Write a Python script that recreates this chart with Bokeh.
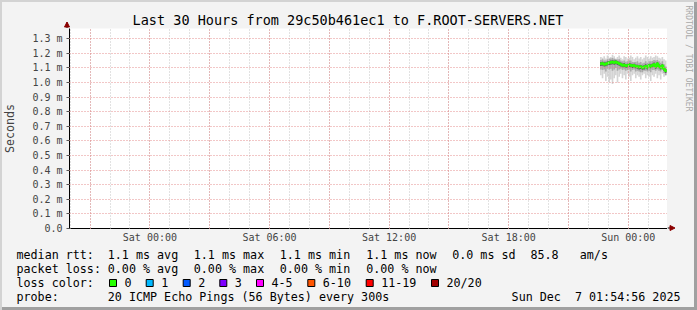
import math
import pandas as pd
from bokeh.plotting import figure
from bokeh.layouts import column, row
from bokeh.models import Range1d, FixedTicker, CustomJSTickFormatter
from bokeh.core.properties import value
from bokeh.embed import file_html
from bokeh.resources import INLINE

FONT = "DejaVu Sans Mono"

# ---------------- data ----------------
step_end_times = pd.date_range("2025-12-06 22:40", "2025-12-07 01:55", freq="5min")

median_ms = [1.128, 1.130, 1.125, 1.127, 1.132, 1.135, 1.138, 1.140, 1.137, 1.140,
             1.136, 1.130, 1.125, 1.118, 1.120, 1.115, 1.117, 1.121, 1.118, 1.114,
             1.116, 1.112, 1.110, 1.106, 1.108, 1.102, 1.106, 1.112, 1.104, 1.116,
             1.112, 1.118, 1.124, 1.110, 1.128, 1.112, 1.104, 1.114, 1.095, 1.080]
ping_max = [1.175, 1.170, 1.180, 1.165, 1.185, 1.170, 1.175, 1.190, 1.180, 1.165,
            1.175, 1.185, 1.170, 1.160, 1.180, 1.175, 1.165, 1.170, 1.185, 1.175,
            1.160, 1.170, 1.180, 1.165, 1.175, 1.160, 1.170, 1.185, 1.175, 1.165,
            1.180, 1.170, 1.175, 1.185, 1.180, 1.170, 1.165, 1.175, 1.160, 1.150]
ping_min = [1.050, 1.030, 1.060, 1.010, 1.040, 1.000, 1.020, 0.990, 1.030, 1.050,
            1.000, 1.040, 1.060, 1.030, 1.050, 1.020, 1.060, 1.040, 1.010, 1.050,
            1.060, 1.030, 1.050, 1.040, 1.020, 1.050, 1.060, 1.030, 1.050, 1.040,
            1.010, 1.050, 1.040, 1.060, 1.030, 1.050, 1.020, 1.060, 1.040, 1.050]
ping_p90 = [1.155, 1.160, 1.150, 1.150, 1.160, 1.162, 1.165, 1.168, 1.162, 1.160,
            1.158, 1.160, 1.150, 1.145, 1.150, 1.142, 1.145, 1.150, 1.150, 1.140,
            1.140, 1.140, 1.145, 1.135, 1.140, 1.130, 1.135, 1.145, 1.135, 1.145,
            1.145, 1.148, 1.155, 1.150, 1.155, 1.145, 1.135, 1.145, 1.125, 1.110]
ping_p10 = [1.090, 1.085, 1.090, 1.075, 1.095, 1.090, 1.095, 1.080, 1.090, 1.100,
            1.080, 1.090, 1.095, 1.085, 1.090, 1.080, 1.085, 1.090, 1.075, 1.085,
            1.090, 1.075, 1.080, 1.075, 1.070, 1.070, 1.080, 1.080, 1.075, 1.080,
            1.070, 1.085, 1.085, 1.080, 1.090, 1.080, 1.075, 1.085, 1.065, 1.050]
ping_p75 = [1.140, 1.142, 1.138, 1.139, 1.145, 1.147, 1.150, 1.152, 1.150, 1.152,
            1.148, 1.143, 1.137, 1.130, 1.133, 1.127, 1.129, 1.134, 1.130, 1.126,
            1.128, 1.124, 1.122, 1.118, 1.120, 1.114, 1.118, 1.125, 1.116, 1.128,
            1.125, 1.130, 1.137, 1.123, 1.140, 1.125, 1.116, 1.127, 1.107, 1.092]
ping_p25 = [1.113, 1.115, 1.110, 1.112, 1.117, 1.120, 1.122, 1.125, 1.121, 1.125,
            1.120, 1.115, 1.110, 1.103, 1.105, 1.100, 1.101, 1.106, 1.103, 1.099,
            1.100, 1.097, 1.095, 1.090, 1.093, 1.087, 1.090, 1.097, 1.089, 1.101,
            1.097, 1.103, 1.109, 1.095, 1.113, 1.097, 1.089, 1.099, 1.080, 1.065]

y_ticks = [0.0, 0.1, 0.2, 0.3, 0.4, 0.5, 0.6, 0.7, 0.8, 0.9, 1.0, 1.1, 1.2, 1.3]
x_label_ticks = ["2025-12-06 00:00", "2025-12-06 06:00", "2025-12-06 12:00",
                 "2025-12-06 18:00", "2025-12-07 00:00"]
x_major_grid = pd.date_range("2025-12-05 21:00", "2025-12-07 00:00", freq="3h")
x_minor_grid = pd.date_range("2025-12-05 20:00", "2025-12-07 01:00", freq="1h")
x_start, x_end = "2025-12-05 19:58", "2025-12-07 01:58"

title_text = "Last 30 Hours from 29c50b461ec1 to F.ROOT-SERVERS.NET"
watermark_text = "RRDTOOL / TOBI OETIKER"
row_heads = ["median rtt:", "packet loss:", "loss color:", "probe:"]
rtt_stats = ["1.1 ms avg", "1.1 ms max", "1.1 ms min", "1.1 ms now", "0.0 ms sd", "85.8", "am/s"]
loss_stats = ["0.00 % avg", "0.00 % max", "0.00 % min", "0.00 % now"]
loss_labels = ["0", "1", "2", "3", "4-5", "6-10", "11-19", "20/20"]
loss_colors = ["#26ff00", "#00b8ff", "#0059ff", "#7e00ff", "#ff00ff", "#ff5500", "#ff0000", "#a10000"]
probe_text = "20 ICMP Echo Pings (56 Bytes) every 300s"
stamp_text = "Sun Dec \u00a07 01:54:56 2025"


def to_ms(vals):
    return list((pd.to_datetime(vals) - pd.Timestamp("1970-01-01")) // pd.Timedelta("1ms"))


# ---------------- layout constants (page pixels) ----------------
W, H = 697, 310
MAIN_W, MAIN_H = 667, 218      # main chart block (below the title strip)
TITLE_H = 28
LEG_H = H - TITLE_H - MAIN_H   # 64
FL = 67                        # frame left


def overlay_fig(w, h, x0, y0):
    f = figure(width=w, height=h, output_backend="svg", toolbar_location=None,
               x_range=Range1d(x0, x0 + w), y_range=Range1d(y0 + h, y0),
               x_axis_location=None, y_axis_location=None, min_border=0,
               frame_align=False)
    f.outline_line_color = None
    f.background_fill_alpha = 0
    f.border_fill_alpha = 0
    f.grid.visible = False
    return f


def txt(f, x, y, s, size="11.7px", align="left", color="black", angle=0.0):
    f.text(x=x, y=y, text=s, text_font=value(FONT), text_font_size=value(size),
           text_align=align, text_baseline="middle", text_color=color, angle=angle)


# ---------------- main chart ----------------
p = figure(width=MAIN_W, height=MAIN_H, output_backend="svg", toolbar_location=None,
           x_axis_type="datetime",
           x_range=Range1d(pd.Timestamp(x_start), pd.Timestamp(x_end)),
           y_range=Range1d(0, 1.37), frame_align=False,
           min_border_left=FL, min_border_right=0, min_border_top=0, min_border_bottom=18)
p.outline_line_color = None
p.background_fill_color = "white"
p.border_fill_alpha = 0

lefts = step_end_times - pd.Timedelta("5min")
p.quad(left=lefts, right=step_end_times, bottom=ping_min, top=ping_max,
       fill_color="#d4d4d4", line_color=None)
p.quad(left=lefts, right=step_end_times, bottom=ping_p10, top=ping_p90,
       fill_color="#a8a8a8", line_color=None)
p.quad(left=lefts, right=step_end_times, bottom=ping_p25, top=ping_p75,
       fill_color="#5e5e5e", line_color=None)
p.segment(x0=lefts, x1=step_end_times, y0=median_ms, y1=median_ms,
          line_color="#26ff00", line_width=2.5)
p.step(x=step_end_times, y=median_ms, mode="before", line_color="#26ff00", line_width=2.5)

p.yaxis.ticker = FixedTicker(ticks=y_ticks)
p.yaxis.formatter = CustomJSTickFormatter(code="return tick == 0 ? '0.0' : tick.toFixed(1) + ' m';")
p.yaxis.axis_label = "Seconds"
p.yaxis.axis_label_text_font = FONT
p.yaxis.axis_label_text_font_size = "11.7px"
p.yaxis.axis_label_text_font_style = "normal"
p.yaxis.axis_label_standoff = 12
p.yaxis.major_label_text_font = FONT
p.yaxis.major_label_text_font_size = "10px"
p.yaxis.major_tick_out = 3
p.yaxis.major_tick_in = 0
p.yaxis.minor_tick_out = 0
p.yaxis.minor_tick_in = 0
p.yaxis.major_label_standoff = 4
p.yaxis.axis_line_color = "black"
p.yaxis.major_tick_line_color = "#555555"

p.xaxis.ticker = FixedTicker(ticks=to_ms(x_label_ticks))
p.xaxis.formatter = CustomJSTickFormatter(code="""
const d = new Date(tick);
const days = ['Sun','Mon','Tue','Wed','Thu','Fri','Sat'];
const h = String(d.getUTCHours()).padStart(2,'0');
const m = String(d.getUTCMinutes()).padStart(2,'0');
return days[d.getUTCDay()] + ' ' + h + ':' + m;
""")
p.xaxis.major_label_text_font = FONT
p.xaxis.major_label_text_font_size = "10px"
p.xaxis.major_tick_out = 0
p.xaxis.major_tick_in = 0
p.xaxis.minor_tick_out = 0
p.xaxis.minor_tick_in = 0
p.xaxis.major_label_standoff = 3
p.xaxis.axis_line_color = "black"

p.ygrid.ticker = FixedTicker(ticks=y_ticks)
p.ygrid.grid_line_color = "#e58f8f"
p.ygrid.grid_line_dash = "1 2"
p.ygrid.level = "overlay"
p.xgrid.ticker = FixedTicker(ticks=to_ms(x_major_grid), minor_ticks=to_ms(x_minor_grid))
p.xgrid.grid_line_color = "#e58f8f"
p.xgrid.grid_line_dash = "1 2"
p.xgrid.minor_grid_line_color = "#c4c4c4"
p.xgrid.minor_grid_line_dash = "1 2"
p.xgrid.level = "overlay"

# ---------------- title strip (with y-axis arrow) ----------------
pt = overlay_fig(MAIN_W, TITLE_H, 0, 0)
txt(pt, [347.5], [19.3], [title_text], size="13.5px", align="center")
pt.segment(x0=[FL - 0.5], y0=[22], x1=[FL - 0.5], y1=[TITLE_H], line_color="black", line_width=1)
pt.patch(x=[FL - 3, FL + 2, FL - 0.5], y=[26.5, 26.5, 21.5], fill_color="#8b0000", line_color="#8b0000")

# ---------------- right strip (watermark + x-axis arrow) ----------------
pw = overlay_fig(W - MAIN_W, TITLE_H + MAIN_H, MAIN_W, 0)
txt(pw, [687.5], [5], [watermark_text], size="8px", color="#a9a9a9", angle=-math.pi / 2)
pw.segment(x0=[MAIN_W], y0=[227.5], x1=[671], y1=[227.5], line_color="black", line_width=1)
pw.patch(x=[669.5, 669.5, 674.5], y=[225, 230, 227.5], fill_color="#8b0000", line_color="#8b0000")

# ---------------- legend strip ----------------
pl = overlay_fig(W, LEG_H, 0, TITLE_H + MAIN_H)
row_y = [254, 268, 282, 296]
txt(pl, [16] * 4, row_y, row_heads)
txt(pl, [107.3, 193.3, 279.3, 365.7, 451.7, 530, 579.3], [row_y[0]] * 7, rtt_stats)
txt(pl, [107.3, 193.3, 279.3, 365.7], [row_y[1]] * 4, loss_stats)
box_x = [109, 145.7, 182.7, 219.3, 256, 307.3, 365.7, 431]
pl.quad(left=box_x, right=[b + 7 for b in box_x], top=[279] * 8, bottom=[286] * 8,
        fill_color=loss_colors, line_color="black", line_width=1)
txt(pl, [b + 15 for b in box_x], [row_y[2]] * 8, loss_labels)
txt(pl, [107.3], [row_y[3]], [probe_text])
txt(pl, [680], [row_y[3]], [stamp_text], align="right")

page = column(
    row(column(pt, p, spacing=0), pw, spacing=0),
    pl,
    spacing=0,
    styles={"background-color": "#f3f3f3",
            "box-shadow": "inset 2px 2px 0 0 #d3d3d3, inset -3px -3px 0 0 #a0a0a0"},
)

open("out.html", "w").write(file_html(page, INLINE))
